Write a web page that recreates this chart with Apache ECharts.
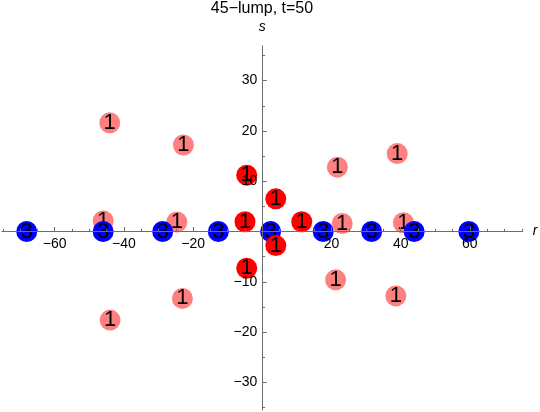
<!DOCTYPE html>
<html>
<head>
<meta charset="utf-8">
<script src="https://cdn.jsdelivr.net/npm/echarts@6/dist/echarts.min.js"></script>
<style>html,body{margin:0;padding:0;background:#fff}#c{width:540px;height:412px}</style>
</head>
<body>
<div id="c"></div>
<script>
var titleText = '45\u2212lump, t=50';
var xTickValues = [-60, -40, -20, 20, 40, 60];
var yTickValues = [-30, -20, -10, 10, 20, 30];
var blueR = [-68.1, -46.0, -28.8, -12.7, 2.4, 17.6, 31.6, 43.9, 59.7];
var blueS = [0, 0, 0, 0, 0, 0, 0, 0, 0];
var blueLabel = '3';
var pinkR = [-44.1, -22.8, 21.7, 39.0, -44.0, -23.1, 21.2, 38.6, -46.0, -24.7, 23.1, 40.8];
var pinkS = [21.6, 17.2, 12.8, 15.5, -17.6, -13.3, -9.6, -12.8, 2.1, 1.9, 1.6, 1.75];
var pinkLabel = '1';
var redR = [-4.5, 3.9, -5.0, 11.4, 3.9, -4.5];
var redS = [11.2, 6.5, 1.95, 1.95, -2.8, -7.3];
var redLabel = '1';

var xMin = -75.3, xMax = 75.3, yMin = -35.5, yMax = 36.9;
function range(a, b, step) { var r = []; for (var v = a; v <= b + 1e-9; v += step) r.push(v); return r; }
var xMinor = range(-75, 75, 5).filter(function (v) { return v !== 0 && xTickValues.indexOf(v) < 0; });
var yMinor = range(-35, 35, 5).filter(function (v) { return v !== 0 && yTickValues.indexOf(v) < 0; });

function zip(a, b) { return a.map(function (v, i) { return [v, b[i]]; }); }
var font = 'Liberation Sans, Arial, sans-serif';
var axisColor = '#6e6e6e';
function fmt(v) { return v < 0 ? '\u2212' + Math.abs(v) : String(v); }

var W = 540, H = 412;
var gLeft = 1.8, gRight = 17.2, gTop = 45.9, gBottom = 1.9;
var plotW = W - gLeft - gRight, plotH = H - gTop - gBottom;
// offsets to bring the axes from the grid edges to the zero lines
var xOffset = -(plotH * (0 - yMin) / (yMax - yMin));
var yOffset = -(plotW * (0 - xMin) / (xMax - xMin));

function mkSeries(data, color, lbl, z) {
  return {
    type: 'scatter', data: data, symbol: 'circle', symbolSize: 21, z: z,
    itemStyle: { color: color, opacity: 1 },
    label: {
      show: true, position: 'inside', formatter: lbl, color: '#000', fontSize: 22, fontFamily: font,
      textBorderWidth: 0, textBorderColor: 'transparent', textShadowBlur: 0
    },
    emphasis: { disabled: true }, animation: false
  };
}

var chart = echarts.init(document.getElementById('c'), null, { renderer: 'canvas' });
chart.setOption({
  animation: false,
  backgroundColor: '#fff',
  title: {
    text: titleText, left: 262, top: 1, textAlign: 'center', padding: 0,
    textStyle: { fontSize: 16, fontWeight: 'normal', color: '#000', fontFamily: font }
  },
  grid: { left: gLeft, right: gRight, top: gTop, bottom: gBottom, containLabel: false, outerBoundsMode: 'none' },
  xAxis: [{
    type: 'value', min: xMin, max: xMax, z: 10, position: 'bottom', offset: xOffset,
    name: 'r', nameLocation: 'end', nameGap: 10,
    nameTextStyle: { fontStyle: 'italic', fontSize: 14, color: '#000', fontFamily: font, verticalAlign: 'middle' },
    axisLine: { show: true, onZero: false, lineStyle: { color: axisColor, width: 1 } },
    axisTick: { show: true, inside: true, length: 4.5, customValues: xTickValues, lineStyle: { color: axisColor } },
    axisLabel: { show: true, customValues: xTickValues, formatter: fmt, margin: 6, fontSize: 14, color: '#000', fontFamily: font },
    splitLine: { show: false }
  }, {
    type: 'value', min: xMin, max: xMax, z: 10, position: 'bottom', offset: xOffset,
    axisLine: { show: false, onZero: false },
    axisTick: { show: true, inside: true, length: 2.7, customValues: xMinor, lineStyle: { color: axisColor } },
    axisLabel: { show: false },
    splitLine: { show: false }
  }],
  yAxis: [{
    type: 'value', min: yMin, max: yMax, z: 10, position: 'left', offset: yOffset,
    name: 's', nameLocation: 'end', nameGap: 12,
    nameTextStyle: { fontStyle: 'italic', fontSize: 14, color: '#000', fontFamily: font, align: 'center' },
    axisLine: { show: true, onZero: false, lineStyle: { color: axisColor, width: 1 } },
    axisTick: { show: true, inside: true, length: 4.5, customValues: yTickValues, lineStyle: { color: axisColor } },
    axisLabel: { show: true, customValues: yTickValues, formatter: fmt, margin: 5, fontSize: 14, color: '#000', fontFamily: font },
    splitLine: { show: false }
  }, {
    type: 'value', min: yMin, max: yMax, z: 10, position: 'left', offset: yOffset,
    axisLine: { show: false, onZero: false },
    axisTick: { show: true, inside: true, length: 2.7, customValues: yMinor, lineStyle: { color: axisColor } },
    axisLabel: { show: false },
    splitLine: { show: false }
  }],
  series: [
    mkSeries(zip(pinkR, pinkS), '#ff8080', pinkLabel, 2),
    mkSeries(zip(blueR, blueS), '#0000ff', blueLabel, 3),
    mkSeries(zip(redR, redS), '#ff0000', redLabel, 4)
  ]
});
</script>
</body>
</html>
